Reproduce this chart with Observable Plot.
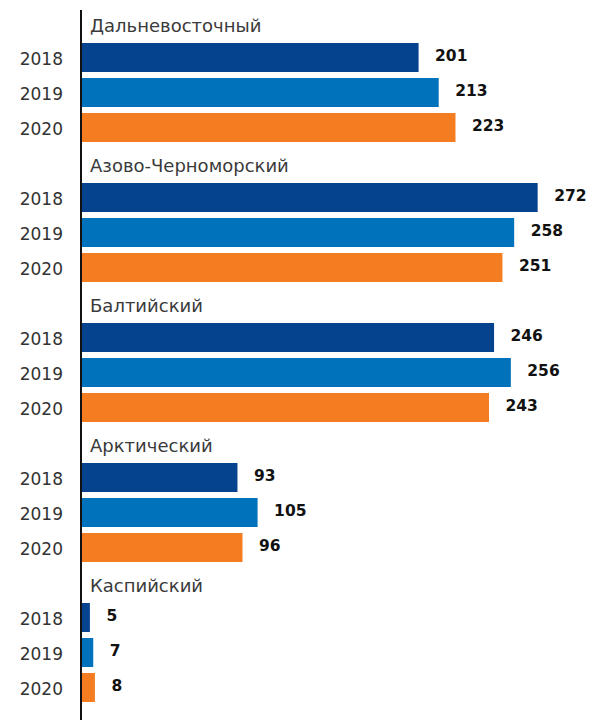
<!DOCTYPE html>
<html>
<head>
<meta charset="utf-8">
<script src="https://cdn.jsdelivr.net/npm/d3@7"></script>
<script src="https://cdn.jsdelivr.net/npm/@observablehq/plot@0.6"></script>
<style>
  html, body { margin: 0; padding: 0; background: #fff; }
  #chart svg { display: block; }
</style>
</head>
<body>
<div id="chart"></div>
<script>
const basins = ["Дальневосточный", "Азово-Черноморский", "Балтийский", "Арктический", "Каспийский"];
const years = ["2018", "2019", "2020"];
const v2018 = [201, 272, 246, 93, 5];
const v2019 = [213, 258, 256, 105, 7];
const v2020 = [223, 251, 243, 96, 8];
const colors = ["#05438f", "#0071bb", "#f47d21"];

const series = [v2018, v2019, v2020];
const rows = [];
const titles = [];
const domain = [];
basins.forEach((b, i) => {
  const tk = b + "|title";
  domain.push(tk);
  titles.push({key: tk, name: b});
  years.forEach((y, j) => {
    const k = b + "|" + y;
    domain.push(k);
    rows.push({key: k, basin: b, year: y, value: series[j][i]});
  });
});

const font = "'DejaVu Sans', sans-serif";
const chart = Plot.plot({
  width: 593,
  height: 720,
  marginLeft: 81.5,
  marginRight: 0,
  marginTop: 0,
  marginBottom: 0,
  style: {fontFamily: font, fontSize: "16px", color: "#333"},
  x: {domain: [0, 305], axis: null},
  y: {domain, padding: 0.18, range: [-0.5, 710.6], axis: null},
  color: {domain: years, range: colors},
  marks: [
    Plot.barX(rows, {y: "key", x: "value", fill: "year"}),
    Plot.axisY(rows.map(d => d.key), {label: null, tickSize: 0, tickPadding: 19, dy: 1.5, tickFormat: d => d.split("|")[1], fontSize: 17, fill: "#333", textAnchor: "end"}),
    Plot.text(titles, {y: "key", x: 0, text: "name", dx: 8, dy: 3, textAnchor: "start", fontSize: 18, fill: "#3a3a3a", letterSpacing: 0.3}),
    Plot.text(rows, {y: "key", x: "value", text: d => String(d.value), dx: 16, dy: -1.5, textAnchor: "start", fontSize: 15.5, fontWeight: 600, fill: "#111"}),
    Plot.ruleX([0], {stroke: "#111", strokeWidth: 2, dx: -1, insetTop: 10, insetBottom: 0})
  ]
});
document.getElementById("chart").appendChild(chart);
</script>
</body>
</html>
